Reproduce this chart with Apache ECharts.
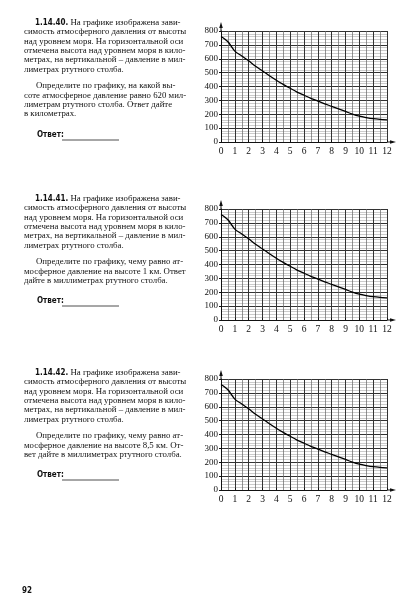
<!DOCTYPE html>
<html>
<head>
<meta charset="utf-8">
<script src="https://cdn.jsdelivr.net/npm/echarts@6/dist/echarts.min.js"></script>
<style>
html, body { margin: 0; padding: 0; background: #fff; }
#page { width: 412px; height: 613px; }
</style>
</head>
<body>
<div id="page"></div>
<script>
// высота над уровнем моря, км
var heights = [0, 0.5, 1, 1.5, 2, 2.5, 3, 3.5, 4, 4.5, 5, 5.5, 6, 6.5, 7, 7.5, 8, 8.5, 9, 9.5, 10, 10.5, 11, 11.5, 12];
// давление, мм рт. ст.
var pressure = [760, 722, 655, 620, 585, 546, 512, 478, 445, 415, 387, 360, 337, 315, 295, 275, 257, 238, 220, 201, 186, 176, 168, 163, 160];

var xTicks = [0, 1, 2, 3, 4, 5, 6, 7, 8, 9, 10, 11, 12];
var yTicks = [0, 100, 200, 300, 400, 500, 600, 700, 800];

var taskNumbers = ['1.14.40.', '1.14.41.', '1.14.42.'];
var introLines = [
    ' На графике изображена зави-',
    'симость атмосферного давления от высоты',
    'над уровнем моря. На горизонтальной оси',
    'отмечена высота над уровнем моря в кило-',
    'метрах, на вертикальной – давление в мил-',
    'лиметрах ртутного столба.'
];
var questionLines = [
    ['Определите по графику, на какой вы-',
     'соте атмосферное давление равно 620 мил-',
     'лиметрам ртутного столба. Ответ дайте',
     'в километрах.'],
    ['Определите по графику, чему равно ат-',
     'мосферное давление на высоте 1 км. Ответ',
     'дайте в миллиметрах ртутного столба.'],
    ['Определите по графику, чему равно ат-',
     'мосферное давление на высоте 8,5 км. От-',
     'вет дайте в миллиметрах ртутного столба.']
];
var pageNumber = '92';

var gridTops = [31, 209, 379];
var textTops = [23, 199, 373];
var serif = '"Liberation Serif", "DejaVu Serif", serif';
var narrow = '"Liberation Sans Narrow", "DejaVu Sans Condensed", sans-serif';

var chart = echarts.init(document.getElementById('page'));

var points = heights.map(function (h, i) { return [h, pressure[i]]; });

var grids = [], xAxes = [], yAxes = [], series = [];
gridTops.forEach(function (top, k) {
    grids.push({ left: 221, width: 166, top: top, height: 111 });
    xAxes.push({
        type: 'value', gridIndex: k, min: 0, max: 12, interval: 1,
        axisLine: { show: true, onZero: false, lineStyle: { color: '#111', width: 1 } },
        axisTick: { show: true, length: 2, inside: true, lineStyle: { color: '#111' } },
        axisLabel: {
            color: '#111', fontFamily: serif, fontSize: 9.5, margin: 4,
            formatter: function (v) { return xTicks.indexOf(v) >= 0 ? String(v) : ''; }
        },
        splitLine: { show: true, lineStyle: { color: '#333', width: 1 } },
        minorTick: { show: false, splitNumber: 2 },
        minorSplitLine: { show: true, lineStyle: { color: '#666', width: 0.7 } }
    });
    yAxes.push({
        type: 'value', gridIndex: k, min: 0, max: 800, interval: 100,
        axisLine: { show: true, onZero: false, lineStyle: { color: '#111', width: 1 } },
        axisTick: { show: true, length: 2, lineStyle: { color: '#111' } },
        axisLabel: {
            color: '#111', fontFamily: serif, fontSize: 9, margin: 3,
            formatter: function (v) { return yTicks.indexOf(v) >= 0 ? String(v) : ''; }
        },
        splitLine: { show: true, lineStyle: { color: '#333', width: 1 } },
        minorTick: { show: false, splitNumber: 5 },
        minorSplitLine: { show: true, lineStyle: { color: '#999', width: 0.5 } }
    });
    series.push({
        type: 'line', xAxisIndex: k, yAxisIndex: k, data: points,
        smooth: 0.3, symbol: 'none', silent: true,
        lineStyle: { color: '#000', width: 1.3 }
    });
});

var graphics = [];
function addText(x, y, txt, font, weight) {
    graphics.push({
        type: 'text', left: x, top: y, silent: true,
        style: { text: txt, fill: '#111', font: (weight || 'normal') + ' ' + font }
    });
}
var lineH = 9.4;
var bodyFont = '8.8px ' + serif;
textTops.forEach(function (t, k) {
    graphics.push({
        type: 'text', left: 35, top: t - 5, silent: true,
        style: {
            text: '{b|' + taskNumbers[k] + '}{n|' + introLines[0] + '}',
            rich: {
                b: { font: 'bold 8px ' + narrow, fill: '#111' },
                n: { font: bodyFont, fill: '#111' }
            }
        }
    });
    for (var i = 1; i < introLines.length; i++) {
        addText(24, t - 5 + i * lineH, introLines[i], bodyFont);
    }
    var q = questionLines[k];
    var qTop = t - 5 + introLines.length * lineH + 7;
    for (var j = 0; j < q.length; j++) {
        addText(j === 0 ? 36 : 24, qTop + j * lineH, q[j], bodyFont);
    }
    var ansY = k === 0 ? t + 108 : t + 98;
    addText(37, ansY, 'Ответ:', '8px ' + narrow, 'bold');
    graphics.push({
        type: 'line', silent: true,
        shape: { x1: 62, y1: ansY + 9, x2: 119, y2: ansY + 9 },
        style: { stroke: '#222', lineWidth: 0.8 }
    });
});
addText(22, 587, pageNumber, '8px ' + narrow, 'bold');

chart.setOption({
    backgroundColor: '#fff',
    animation: false,
    grid: grids,
    xAxis: xAxes,
    yAxis: yAxes,
    series: series,
    graphic: graphics
});

// стрелки осей, продолжающие оси за пределы сетки
var arrows = [];
gridTops.forEach(function (top, k) {
    var o = chart.convertToPixel({ gridIndex: k }, [0, 0]);
    var xEnd = chart.convertToPixel({ gridIndex: k }, [12, 0]);
    var yEnd = chart.convertToPixel({ gridIndex: k }, [0, 800]);
    arrows.push({
        type: 'polyline', silent: true,
        shape: { points: [[xEnd[0], xEnd[1]], [xEnd[0] + 6, xEnd[1]]] },
        style: { stroke: '#111', lineWidth: 1 }
    });
    arrows.push({
        type: 'polygon', silent: true,
        shape: { points: [[xEnd[0] + 9, xEnd[1]], [xEnd[0] + 3, xEnd[1] - 1.8], [xEnd[0] + 3, xEnd[1] + 1.8]] },
        style: { fill: '#111' }
    });
    arrows.push({
        type: 'polyline', silent: true,
        shape: { points: [[o[0], yEnd[1]], [o[0], yEnd[1] - 6]] },
        style: { stroke: '#111', lineWidth: 1 }
    });
    arrows.push({
        type: 'polygon', silent: true,
        shape: { points: [[o[0], yEnd[1] - 9], [o[0] - 1.8, yEnd[1] - 3], [o[0] + 1.8, yEnd[1] - 3]] },
        style: { fill: '#111' }
    });
});
chart.setOption({ graphic: graphics.concat(arrows) });
</script>
</body>
</html>
